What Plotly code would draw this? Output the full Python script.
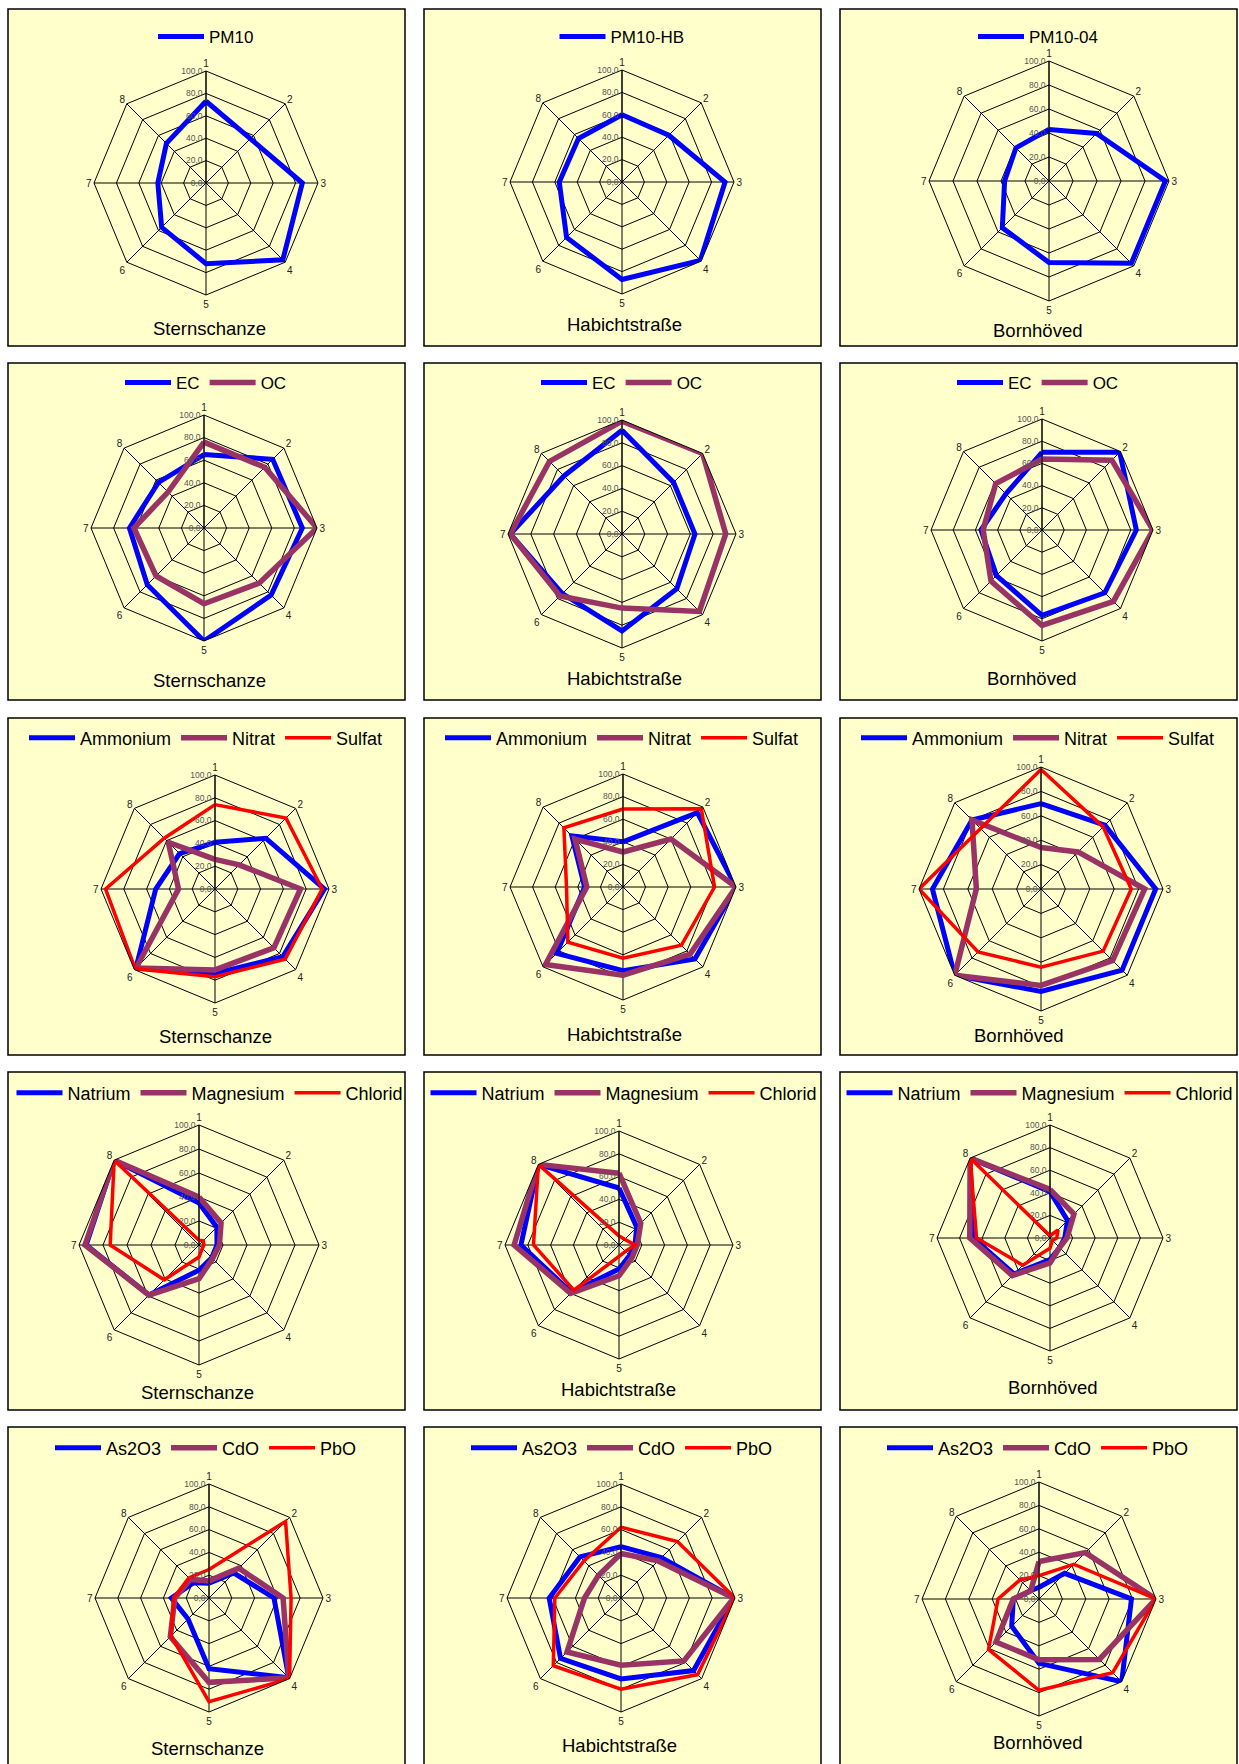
import plotly.graph_objects as go

# ---------------- data ----------------
spokes = ["1", "2", "3", "4", "5", "6", "7", "8"]
stations = ["Sternschanze", "Habichtstraße", "Bornhöved"]
radial_ticks = [0, 20, 40, 60, 80, 100]
radial_ticktext = ["0,0", "20,0", "40,0", "60,0", "80,0", "100,0"]

# row 1 - PM10
pm10_sternschanze = [73, 56, 86, 97, 72, 56, 43, 50]
pm10hb_habichtstrasse = [60, 59, 92, 99, 87, 70, 56, 55]
pm10_04_bornhoeved = [43, 56, 97, 97, 68, 55, 37, 39]

# row 2 - EC / OC
ec_stern = [65, 86, 87, 84, 100, 71, 66, 57]
oc_stern = [76, 76, 100, 69, 67, 60, 62, 45]
ec_habi = [91, 64, 64, 68, 85, 74, 98, 72]
oc_habi = [99, 100, 91, 96, 65, 77, 98, 90]
ec_born = [70, 99, 85, 80, 77, 58, 55, 46]
oc_born = [64, 89, 100, 91, 86, 65, 53, 59]

# row 3 - Ammonium / Nitrat / Sulfat
ammonium_stern = [41, 63, 96, 84, 74, 98, 52, 44]
nitrat_stern = [26, 30, 75, 73, 71, 98, 32, 58]
sulfat_stern = [74, 88, 94, 87, 77, 99, 96, 63]
ammonium_habi = [40, 93, 100, 90, 74, 83, 34, 64]
nitrat_habi = [31, 60, 100, 84, 78, 97, 32, 60]
sulfat_habi = [69, 98, 81, 73, 63, 69, 50, 74]
ammonium_born = [70, 74, 94, 94, 84, 100, 89, 80]
nitrat_born = [34, 43, 85, 83, 79, 100, 53, 80]
sulfat_born = [98, 72, 74, 72, 64, 73, 100, 70]

# row 4 - Natrium / Magnesium / Chlorid
natrium_stern = [35, 21, 15, 15, 21, 59, 94, 100]
magnesium_stern = [40, 26, 17, 16, 28, 59, 95, 100]
chlorid_stern = [4, 5, 4, 4, 10, 41, 74, 100]
natrium_habi = [50, 22, 14, 13, 21, 59, 86, 100]
magnesium_habi = [63, 27, 16, 16, 27, 60, 92, 100]
chlorid_habi = [8, 7, 14, 8, 10, 56, 75, 100]
natrium_born = [41, 22, 13, 12, 19, 45, 68, 100]
magnesium_born = [43, 30, 15, 12, 22, 47, 71, 100]
chlorid_born = [2, 10, 6, 3, 9, 34, 65, 100]

# row 5 - As2O3 / CdO / PbO
as2o3_stern = [13, 31, 57, 99, 62, 26, 33, 19]
cdo_stern = [15, 37, 65, 99, 74, 48, 30, 23]
pbo_stern = [25, 95, 72, 100, 91, 47, 31, 25]
as2o3_habi = [45, 50, 99, 90, 71, 75, 63, 51]
cdo_habi = [39, 46, 99, 78, 59, 67, 32, 28]
pbo_habi = [62, 70, 100, 95, 80, 84, 58, 46]
as2o3_born = [10, 31, 79, 100, 55, 33, 22, 10]
cdo_born = [32, 56, 100, 73, 52, 52, 22, 10]
pbo_born = [20, 42, 100, 89, 78, 61, 35, 23]

# ---------------- styling ----------------
W, H = 1239, 1764
FONT = "Liberation Sans, Arial, sans-serif"
BLUE, PURPLE, RED = "#0000FF", "#993366", "#FF0000"
S1 = (BLUE, 5)
S2 = (PURPLE, 5.5)
S3 = (RED, 3.5)

panels = [
    [[("PM10", pm10_sternschanze, S1)],
     [("PM10-HB", pm10hb_habichtstrasse, S1)],
     [("PM10-04", pm10_04_bornhoeved, S1)]],
    [[("EC", ec_stern, S1), ("OC", oc_stern, S2)],
     [("EC", ec_habi, S1), ("OC", oc_habi, S2)],
     [("EC", ec_born, S1), ("OC", oc_born, S2)]],
    [[("Ammonium", ammonium_stern, S1), ("Nitrat", nitrat_stern, S2), ("Sulfat", sulfat_stern, S3)],
     [("Ammonium", ammonium_habi, S1), ("Nitrat", nitrat_habi, S2), ("Sulfat", sulfat_habi, S3)],
     [("Ammonium", ammonium_born, S1), ("Nitrat", nitrat_born, S2), ("Sulfat", sulfat_born, S3)]],
    [[("Natrium", natrium_stern, S1), ("Magnesium", magnesium_stern, S2), ("Chlorid", chlorid_stern, S3)],
     [("Natrium", natrium_habi, S1), ("Magnesium", magnesium_habi, S2), ("Chlorid", chlorid_habi, S3)],
     [("Natrium", natrium_born, S1), ("Magnesium", magnesium_born, S2), ("Chlorid", chlorid_born, S3)]],
    [[("As2O3", as2o3_stern, S1), ("CdO", cdo_stern, S2), ("PbO", pbo_stern, S3)],
     [("As2O3", as2o3_habi, S1), ("CdO", cdo_habi, S2), ("PbO", pbo_habi, S3)],
     [("As2O3", as2o3_born, S1), ("CdO", cdo_born, S2), ("PbO", pbo_born, S3)]],
]

# geometry (pixels): polar centre and radius per panel
geom = [
    [(206, 183, 112), (622, 182, 112), (1049, 181, 120)],
    [(204, 528, 113), (622, 534, 114), (1042, 530, 111)],
    [(215, 889, 114), (623, 887, 113), (1041, 889, 122)],
    [(199, 1245, 120), (619, 1245, 114), (1050, 1238, 113)],
    [(209, 1598, 114), (621, 1598, 114), (1039, 1599, 117)],
]
panel_x = [(8, 405), (424, 821), (840, 1237)]
panel_y = [(9, 346), (363, 700), (718, 1055), (1072, 1410), (1427, 1775)]
legend_y = [37, 383, 738, 1093, 1448]
legend_x = [[206, 622, 1038], [206, 622, 1038], [206, 622, 1038],
            [210, 624, 1040], [206, 622, 1038]]
legend_size = [17, 17, 18, 18, 18]
title_pos = [
    [(209, 328), (624, 325), (1037, 330)],
    [(209, 681), (624, 678), (1031, 678)],
    [(215, 1036), (624, 1034), (1018, 1035)],
    [(197, 1392), (618, 1389), (1052, 1387)],
    [(207, 1748), (619, 1745), (1037, 1742)],
]

fig = go.Figure()
layout = dict(
    width=W, height=H, margin=dict(l=0, r=0, t=0, b=0),
    paper_bgcolor="white", plot_bgcolor="white", template="none",
    font=dict(family=FONT, color="black"), showlegend=True,
    shapes=[], annotations=[],
)

k = 0
for r in range(5):
    for c in range(3):
        k += 1
        pid = "polar" if k == 1 else f"polar{k}"
        lid = "legend" if k == 1 else f"legend{k}"
        cx, cy, rad = geom[r][c]
        for name, vals, (color, lw) in panels[r][c]:
            fig.add_trace(go.Scatterpolar(
                r=list(vals) + [vals[0]],
                theta=spokes + [spokes[0]],
                mode="lines", name=name, showlegend=True,
                line=dict(color=color, width=lw),
                subplot=pid, legend=lid, hoverinfo="skip",
            ))
        layout[pid] = dict(
            domain=dict(x=[(cx - rad) / W, (cx + rad) / W],
                        y=[1 - (cy + rad) / H, 1 - (cy - rad) / H]),
            bgcolor="rgba(0,0,0,0)",
            gridshape="linear",
            angularaxis=dict(type="category", categoryarray=spokes,
                             rotation=90, direction="clockwise",
                             showline=True, linecolor="black", linewidth=1,
                             showgrid=True, gridcolor="black", gridwidth=1,
                             ticks="", tickfont=dict(size=10, color="#222222", family=FONT)),
            radialaxis=dict(range=[0, 100], tickvals=radial_ticks, ticktext=radial_ticktext,
                            angle=90, tickangle=90, side="counterclockwise",
                            showline=True, linecolor="black", linewidth=1,
                            showgrid=True, gridcolor="black", gridwidth=1,
                            ticks="", tickfont=dict(size=8.5, color="#555555", family=FONT)),
        )
        layout[lid] = dict(
            orientation="h", x=legend_x[r][c] / W, xanchor="center",
            y=1 - legend_y[r] / H, yanchor="middle", itemwidth=46,
            bgcolor="rgba(0,0,0,0)", font=dict(size=legend_size[r], family=FONT, color="black"),
            itemclick=False, itemdoubleclick=False, traceorder="normal",
            visible=True,
        )
        x0, x1 = panel_x[c]
        y0, y1 = panel_y[r]
        layout["shapes"].append(dict(
            type="rect", xref="paper", yref="paper", layer="below",
            x0=x0 / W, x1=x1 / W, y0=1 - y1 / H, y1=1 - y0 / H,
            fillcolor="#FFFFCC", line=dict(color="black", width=1.5),
        ))
        tx, ty = title_pos[r][c]
        layout["annotations"].append(dict(
            text=stations[c], xref="paper", yref="paper",
            x=tx / W, y=1 - ty / H, xanchor="center", yanchor="middle",
            showarrow=False, font=dict(size=18.5, family=FONT, color="black"),
        ))

fig.update_layout(**layout)
fig.write_html("out.html", config={"displayModeBar": False},
               post_script="document.body.style.margin='0';")
